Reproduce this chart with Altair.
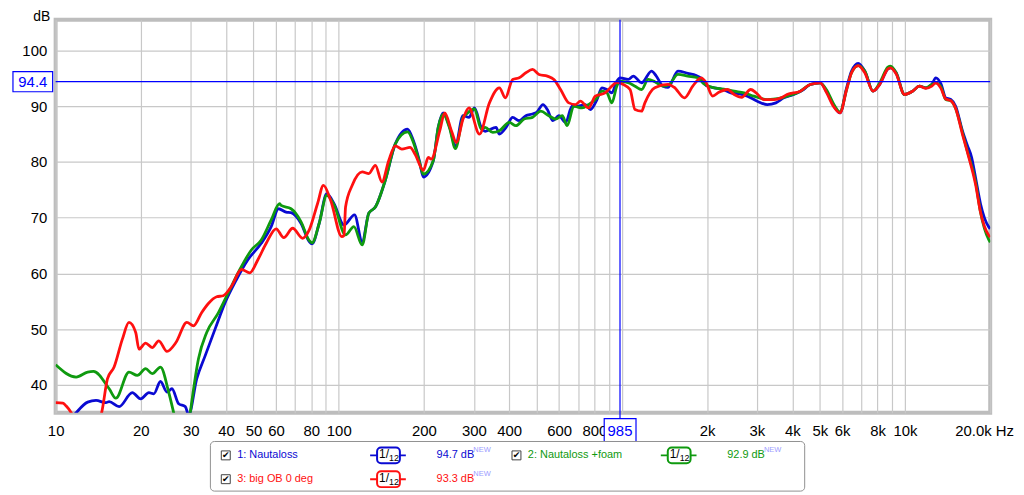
import altair as alt
import pandas as pd

# ---------------- data (Hz, dB) ----------------
f_blue = [11.0, 11.82, 12.98, 13.89, 15.05, 15.46, 16.76, 18.66, 19.97, 21.35, 22.23, 23.46, 24.74, 25.76, 27.2, 28.71, 29.5,
          31.52, 33.73, 36.57, 39.64, 43.53, 47.83, 53.26, 57.73, 61.27, 65.16, 67.84, 73.54, 78.68, 80.5, 85.31, 90.7, 96.27,
          104.4, 113.7, 121.0, 127.7, 134.7, 146.0, 158.3, 175.0, 183.6, 192.7, 199.0, 215.7, 224.6, 233.8, 246.6, 258.2,
          274.8, 288.4, 301.7, 318.5, 329.0, 359.5, 369.3, 390.0, 411.4, 433.9, 458.0, 483.4, 500.0, 526.5, 545.6, 570.8,
          599.1, 632.4, 667.4, 700.0, 743.0, 773.8, 816.8, 850.4, 885.4, 921.8, 959.7, 985.6, 1054, 1098, 1174, 1273, 1320,
          1398, 1456, 1578, 1710, 1830, 1905, 1984, 2121, 2268, 2427, 2600, 2775, 3008, 3262, 3500, 3731, 4046, 4385, 4628,
          5016, 5290, 5585, 5896, 6220, 6476, 6836, 7213, 7712, 8142, 8705, 8900, 9307, 9959, 10650, 11240, 11860, 12440,
          12850, 13400, 13930, 14510, 15100, 15950, 16600, 17200, 17750, 18480, 19780, 20000]
db_blue = [33.0, 35.0, 36.9, 37.2, 36.8, 37.0, 36.1, 38.6, 37.5, 38.6, 38.4, 40.6, 38.7, 39.3, 36.6, 36.1, 34.6,
           41.1, 45.2, 50.0, 54.7, 58.9, 62.5, 65.4, 68.4, 71.6, 71.0, 70.9, 69.0, 65.7, 65.3, 69.0, 74.3, 72.5,
           68.7, 70.5, 65.7, 70.8, 71.9, 76.7, 83.2, 85.9, 83.8, 80.2, 77.3, 80.2, 86.2, 88.8, 86.2, 82.9,
           88.3, 88.0, 89.7, 86.2, 85.5, 86.2, 85.0, 86.2, 88.0, 87.4, 88.3, 88.6, 88.9, 90.3, 89.4, 87.4,
           88.3, 87.1, 90.0, 90.0, 90.3, 89.4, 91.2, 93.3, 93.0, 92.4, 94.5, 95.1, 94.8, 95.4, 94.2, 96.3, 95.5,
           93.6, 93.4, 96.3, 95.9, 95.5, 95.0, 93.7, 93.3, 93.0, 92.4, 92.2, 91.8, 90.9, 90.3, 90.6, 91.5, 92.1, 93.0, 93.9,
           94.2, 92.6, 90.2, 88.8, 93.3, 96.3, 97.7, 96.3, 92.7, 93.9, 96.7, 96.9, 96.0, 92.1, 92.7, 93.6, 93.3, 93.9,
           95.1, 94.0, 91.5, 91.2, 90.0, 85.6, 83.0, 80.8, 77.2, 72.5, 68.3, 68.0]

f_green = [10.0, 11.82, 12.98, 13.6, 15.46, 16.32, 18.16, 19.43, 20.79, 21.93, 23.46, 25.08, 26.12, 27.5, 29.0, 29.89,
           31.96, 34.17, 37.55, 40.7, 44.74, 49.13, 53.26, 57.73, 61.77, 62.57, 67.84, 73.54, 78.68, 80.5, 85.31, 90.7,
           96.27, 105.7, 113.1, 121.0, 127.7, 134.7, 146.0, 158.3, 175.0, 183.6, 192.7, 199.0, 215.7, 224.6, 233.8, 246.6,
           258.2, 274.8, 282.3, 301.7, 318.5, 329.0, 350.1, 369.3, 400.3, 422.5, 451.8, 483.4, 516.9, 552.0, 583.3, 615.8,
           641.1, 676.1, 723.6, 763.2, 816.8, 850.4, 885.4, 921.8, 959.7, 985.6, 1054, 1113, 1174, 1239, 1307, 1398, 1470,
           1578, 1710, 1854, 1950, 2121, 2330, 2493, 2702, 2929, 3262, 3600, 3832, 4270, 4628, 5016, 5290, 5585, 5896,
           6220, 6476, 6836, 7213, 7712, 8142, 8705, 8900, 9307, 9959, 10650, 11240, 11860, 12440, 12850, 13400, 13930,
           14510, 15100, 15950, 16600, 17750, 18480, 19780, 20000]
db_green = [43.6, 41.4, 42.3, 42.4, 39.3, 37.6, 42.3, 41.7, 42.9, 42.0, 43.2, 38.7, 35.0, 30.0, 30.0, 35.0,
            44.7, 49.4, 52.9, 56.5, 60.7, 64.2, 66.0, 69.6, 72.5, 72.2, 71.6, 69.3, 65.9, 65.5, 69.0, 74.0,
            72.3, 66.9, 68.4, 65.1, 70.8, 71.9, 76.7, 83.2, 85.4, 83.5, 80.0, 77.8, 80.2, 86.2, 88.6, 86.0,
            82.4, 88.0, 88.6, 89.5, 85.9, 86.2, 85.3, 85.6, 87.1, 86.5, 87.7, 88.0, 89.1, 88.3, 87.7, 88.3,
            86.5, 90.0, 89.7, 90.3, 91.5, 92.7, 92.4, 90.6, 93.6, 94.5, 94.2, 93.6, 93.0, 94.8, 94.4, 93.6, 93.9,
            95.7, 95.4, 95.1, 94.0, 93.3, 93.0, 92.7, 92.4, 91.8, 91.2, 91.4, 91.8, 92.7, 93.9, 94.2, 92.9, 90.5, 89.0,
            93.0, 96.0, 97.3, 96.3, 92.7, 94.2, 97.0, 97.2, 96.0, 92.1, 92.7, 93.6, 93.3, 93.9, 94.2, 93.5, 91.2,
            91.0, 89.6, 85.3, 82.0, 76.5, 71.0, 66.0, 65.6]

f_red = [10.0, 10.61, 10.9, 11.35, 11.8, 14.2, 14.58, 15.25, 16.09, 17.21, 18.16, 19.18, 19.7, 20.79, 21.93, 23.14, 24.74,
         26.6, 29.08, 30.69, 32.82, 34.64, 37.05, 39.1, 41.8, 45.33, 48.5, 51.86, 55.45, 60.1, 63.95, 68.77, 74.56, 78.68,
         84.14, 88.31, 93.67, 102.5, 104.4, 105.7, 111.6, 121.0, 127.7, 134.7, 142.1, 150.1, 158.3, 167.1, 178.6, 186.0,
         199.0, 207.2, 212.0, 227.5, 236.9, 250.0, 260.3, 274.8, 288.4, 314.1, 340.6, 369.3, 387.6, 411.4, 433.9, 458.0,
         483.4, 509.8, 545.6, 575.4, 607.4, 649.4, 685.5, 713.7, 763.2, 805.6, 873.3, 921.8, 959.7, 1012, 1069, 1113, 1174,
         1206, 1307, 1456, 1530, 1665, 1780, 1905, 1980, 2093, 2200, 2361, 2493, 2650, 2852, 2980, 3176, 3450, 3650, 3832,
         4270, 4628, 5016, 5290, 5585, 5896, 6220, 6476, 6836, 7213, 7712, 8142, 8705, 8900, 9307, 9959, 10650, 11240,
         11860, 12440, 12850, 13400, 13930, 14510, 15100, 15950, 16600, 17750, 18480, 19780, 20000]
db_red = [36.8, 36.7, 36.2, 35.0, 33.0, 33.0, 35.3, 41.1, 43.2, 48.2, 51.2, 49.4, 46.4, 47.5, 46.7, 47.9, 46.0,
          47.6, 51.2, 50.6, 53.0, 54.6, 55.8, 56.0, 57.7, 60.7, 60.1, 62.5, 65.4, 68.0, 66.4, 68.1, 66.3, 67.8,
          72.5, 75.8, 73.1, 66.6, 66.8, 71.9, 75.8, 78.2, 77.9, 79.4, 76.4, 80.2, 82.9, 82.3, 82.6, 81.4,
          78.5, 80.8, 80.5, 85.6, 88.8, 85.6, 83.5, 87.7, 89.7, 85.0, 90.6, 93.3, 91.5, 94.8, 95.1, 96.0,
          96.6, 95.7, 95.4, 94.8, 93.0, 90.6, 90.3, 90.9, 89.7, 91.8, 92.4, 93.6, 94.3, 93.9, 93.0, 89.4, 89.1,
          90.6, 93.3, 93.9, 93.4, 91.5, 93.6, 95.1, 94.3, 91.8, 92.5, 93.0, 92.1, 91.6, 93.0, 92.4, 91.2, 91.2, 91.5, 92.1,
          92.7, 93.9, 94.2, 92.4, 90.0, 88.8, 93.0, 96.0, 97.3, 96.0, 92.7, 93.9, 96.7, 96.9, 95.8, 92.1, 92.7, 93.6,
          93.2, 93.6, 94.2, 93.2, 91.3, 91.0, 89.6, 85.0, 81.8, 76.0, 71.0, 66.8, 66.5]

series_names = ["1: Nautaloss", "2: Nautaloss +foam", "3: big OB 0 deg"]
series_colors = ["#0a0ad2", "#0f9a0f", "#ff1010"]
legend_values = ["94.7 dB", "92.9 dB", "93.3 dB"]

cursor_freq = 985
cursor_db = 94.4

grid_x = [10, 20, 30, 40, 50, 60, 70, 80, 90, 100, 200, 300, 400, 500, 600, 700, 800, 900,
          1000, 2000, 3000, 4000, 5000, 6000, 7000, 8000, 9000, 10000, 20000]
label_x_vals = [10, 20, 30, 40, 50, 60, 80, 100, 200, 300, 400, 600, 800, 2000, 3000, 4000, 5000, 6000, 8000, 10000]
label_x_txt = ["10", "20", "30", "40", "50", "60", "80", "100", "200", "300", "400", "600", "800",
               "2k", "3k", "4k", "5k", "6k", "8k", "10k"]
grid_y = [40, 50, 60, 70, 80, 90, 100]

# ---------------- build ----------------
frames = []
for name, fs, dbs in zip(series_names, [f_blue, f_green, f_red], [db_blue, db_green, db_red]):
    frames.append(pd.DataFrame({"freq": fs, "db": dbs, "series": name, "idx": list(range(len(fs)))}))
df = pd.concat(frames, ignore_index=True)

W, H = 942, 396
FONT = "Liberation Sans"
x_scale = alt.Scale(type="log", domain=[10, 20000], nice=False)
y_scale = alt.Scale(domain=[35, 105.5], nice=False, zero=False)

expr = "''"
for v, t in reversed(list(zip(label_x_vals, label_x_txt))):
    expr = f"datum.value == {v} ? '{t}' : ({expr})"

x_axis = alt.Axis(values=grid_x, labelExpr=expr, grid=True, gridColor="#c8c8c8", gridWidth=1.2,
                  ticks=False, domain=False, title=None, labelFont=FONT, labelFontSize=15,
                  labelColor="#000000", labelPadding=11, labelOverlap=False, labelFlush=False,
                  labelBound=False)
y_axis = alt.Axis(values=grid_y, grid=True, gridColor="#c8c8c8", gridWidth=1.2, ticks=False, domain=False,
                  title=None, labelFont=FONT, labelFontSize=15, labelColor="#000000", labelPadding=9,
                  labelOverlap=False)

lines = alt.Chart(df).mark_line(clip=True, strokeWidth=2.8, interpolate="monotone").encode(
    x=alt.X("freq:Q", scale=x_scale, axis=x_axis),
    y=alt.Y("db:Q", scale=y_scale, axis=y_axis),
    color=alt.Color("series:N", scale=alt.Scale(domain=series_names, range=series_colors), legend=None),
    order="idx:Q",
)

cur = pd.DataFrame({"f": [cursor_freq], "v": [cursor_db],
                    "vlo": [cursor_db - 1.8], "vhi": [cursor_db + 1.8],
                    "flo": [cursor_freq / 1.137], "fhi": [cursor_freq * 1.139],
                    "vtxt": [f"{cursor_db}"], "ftxt": [f"{cursor_freq}"]})
BLUE = "#0000ff"
vrule = alt.Chart(cur).mark_rule(color=BLUE, strokeWidth=1.2).encode(
    x=alt.X("f:Q", scale=x_scale, axis=x_axis), y=alt.value(0), y2=alt.value(H + 6))
hrule = alt.Chart(cur).mark_rule(color=BLUE, strokeWidth=1.2).encode(
    y=alt.Y("v:Q", scale=y_scale, axis=y_axis), x=alt.value(0), x2=alt.value(W))
ybox = alt.Chart(cur).mark_rect(fill="white", stroke=BLUE, strokeWidth=1.2).encode(
    x=alt.value(-43), x2=alt.value(-3), y=alt.Y("vlo:Q", scale=y_scale, axis=y_axis), y2="vhi:Q")
ytxt = alt.Chart(cur).mark_text(font=FONT, fontSize=15, color=BLUE, align="center", baseline="middle").encode(
    x=alt.value(-23), y=alt.Y("v:Q", scale=y_scale, axis=y_axis), text="vtxt:N")
xbox = alt.Chart(cur).mark_rect(fill="white", stroke=BLUE, strokeWidth=1.2).encode(
    x=alt.X("flo:Q", scale=x_scale, axis=x_axis), x2="fhi:Q", y=alt.value(H + 6), y2=alt.value(H + 29))
xtxt = alt.Chart(cur).mark_text(font=FONT, fontSize=15, color=BLUE, align="center", baseline="middle").encode(
    x=alt.X("f:Q", scale=x_scale, axis=x_axis), y=alt.value(H + 18), text="ftxt:N")

one = pd.DataFrame({"a": [0]})


def txt(s, x, y, color="#000000", size=11, align="left", baseline="middle", font=FONT):
    return alt.Chart(one).mark_text(text=s, align=align, baseline=baseline, fontSize=size, font=font,
                                    color=color).encode(x=alt.value(x), y=alt.value(y))


def box(x1, x2, y1, y2, stroke, fill="white", sw=1.0, r=0):
    return alt.Chart(one).mark_rect(fill=fill, stroke=stroke, strokeWidth=sw, cornerRadius=r).encode(
        x=alt.value(x1), x2=alt.value(x2), y=alt.value(y1), y2=alt.value(y2))


def hline(x1, x2, y, color, sw=2):
    return alt.Chart(one).mark_rule(color=color, strokeWidth=sw).encode(
        x=alt.value(x1), x2=alt.value(x2), y=alt.value(y))


hz = txt("20.0k Hz", W + 24, H + 11, size=15, align="right", baseline="top")
db_title = txt("dB", -14, 1, size=14, align="center", baseline="alphabetic")

legend_layers = [box(156, 755, 425, 475, "#909090", r=4)]
slots = [(0, 439), (293, 439), (0, 463)]
for (off, yy), name, col, val in zip(slots, series_names, series_colors, legend_values):
    legend_layers += [
        box(167 + off, 176 + off, yy - 4.5, yy + 4.5, "#404040"),
        txt("\u2714", 171.5 + off, yy, size=9, align="center", font="DejaVu Sans"),
        txt(name, 183 + off, yy, color=col),
        hline(317 + off, 353 + off, yy, col),
        box(324 + off, 347 + off, yy - 8, yy + 8, col, sw=2, r=4),
        txt("1/", 336 + off, yy - 1, size=12, align="right"),
        txt("12", 336 + off, yy + 3, size=9),
        txt(val, 384 + off, yy, color=col),
        txt("NEW", 421 + off, yy - 5, color="#9c9cff", size=7.5),
    ]

chart = alt.layer(lines, hrule, vrule, ybox, ytxt, xbox, xtxt, hz, db_title, *legend_layers).properties(
    width=W, height=H,
    padding={"left": 48, "top": 10, "right": 26, "bottom": 81},
    autosize=alt.AutoSizeParams(type="none"),
    background="white",
).configure_view(stroke="#bdbdbd", strokeWidth=4)

chart.save("out.html", embed_options={"renderer": "svg", "actions": False})
